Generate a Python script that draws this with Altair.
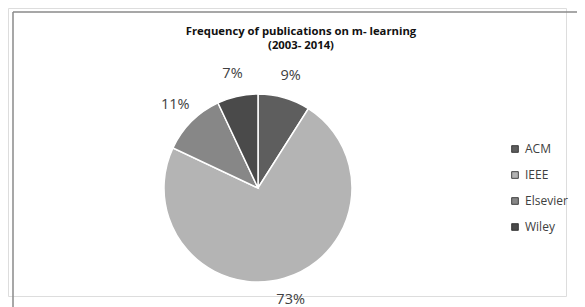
import altair as alt
import pandas as pd

publishers = ["ACM", "IEEE", "Elsevier", "Wiley"]
shares = [9, 73, 11, 7]
labels = ["9%", "73%", "11%", "7%"]
colors = ["#5e5e5e", "#b4b4b4", "#878787", "#4a4a4a"]
title_line1 = "Frequency of publications on m- learning"
title_line2 = "(2003- 2014)"

df = pd.DataFrame({"publisher": publishers, "share": shares, "label": labels,
                   "idx": list(range(len(publishers)))})

W, H = 569, 299
CX, CY, R = 250, 180, 94

color = alt.Color("publisher:N", sort=publishers,
                  scale=alt.Scale(domain=publishers, range=colors),
                  legend=alt.Legend(title=None, orient="none", legendX=501, legendY=135,
                                    symbolType="square", symbolSize=45,
                                    symbolStrokeColor="#222", symbolStrokeWidth=0.8,
                                    labelFont="Open Sans", labelFontSize=12, labelColor="#404040",
                                    labelOffset=4, rowPadding=14))

base = alt.Chart(df).encode(
    theta=alt.Theta("share:Q", stack=True),
    order=alt.Order("idx:Q"),
)

arcs = base.mark_arc(radius=R, stroke="white", strokeWidth=1.5).encode(
    color=color, x=alt.value(CX), y=alt.value(CY))

texts = base.mark_text(radius=117, font="Open Sans", fontSize=14.5, color="#404040").encode(
    text="label:N", x=alt.value(CX), y=alt.value(CY))

def title_text(s, ypos):
    return alt.Chart(pd.DataFrame({"t": [s]})).mark_text(
        font="Open Sans", fontSize=11.3, fontWeight="bold", color="#111",
        baseline="middle", align="center").encode(
        text="t:N", x=alt.value(293), y=alt.value(ypos))

t1 = title_text(title_line1, 24)
t2 = title_text(title_line2, 38)

left = alt.Chart(pd.DataFrame({"a": [0]})).mark_rule(color="#8a8a8a", strokeWidth=1.5).encode(
    x=alt.value(5), y=alt.value(4), y2=alt.value(H + 10))
top = alt.Chart(pd.DataFrame({"a": [0]})).mark_rule(color="#8a8a8a", strokeWidth=1.5).encode(
    x=alt.value(5), x2=alt.value(W + 10), y=alt.value(4))

chart = alt.layer(left, top, arcs, texts, t1, t2).properties(
    width=W, height=H, padding=0,
    autosize=alt.AutoSizeParams(type="fit", contains="padding"),
).configure_view(stroke=None).configure(background="white")

chart.save("out.html", embed_options={"renderer": "svg", "actions": False})
